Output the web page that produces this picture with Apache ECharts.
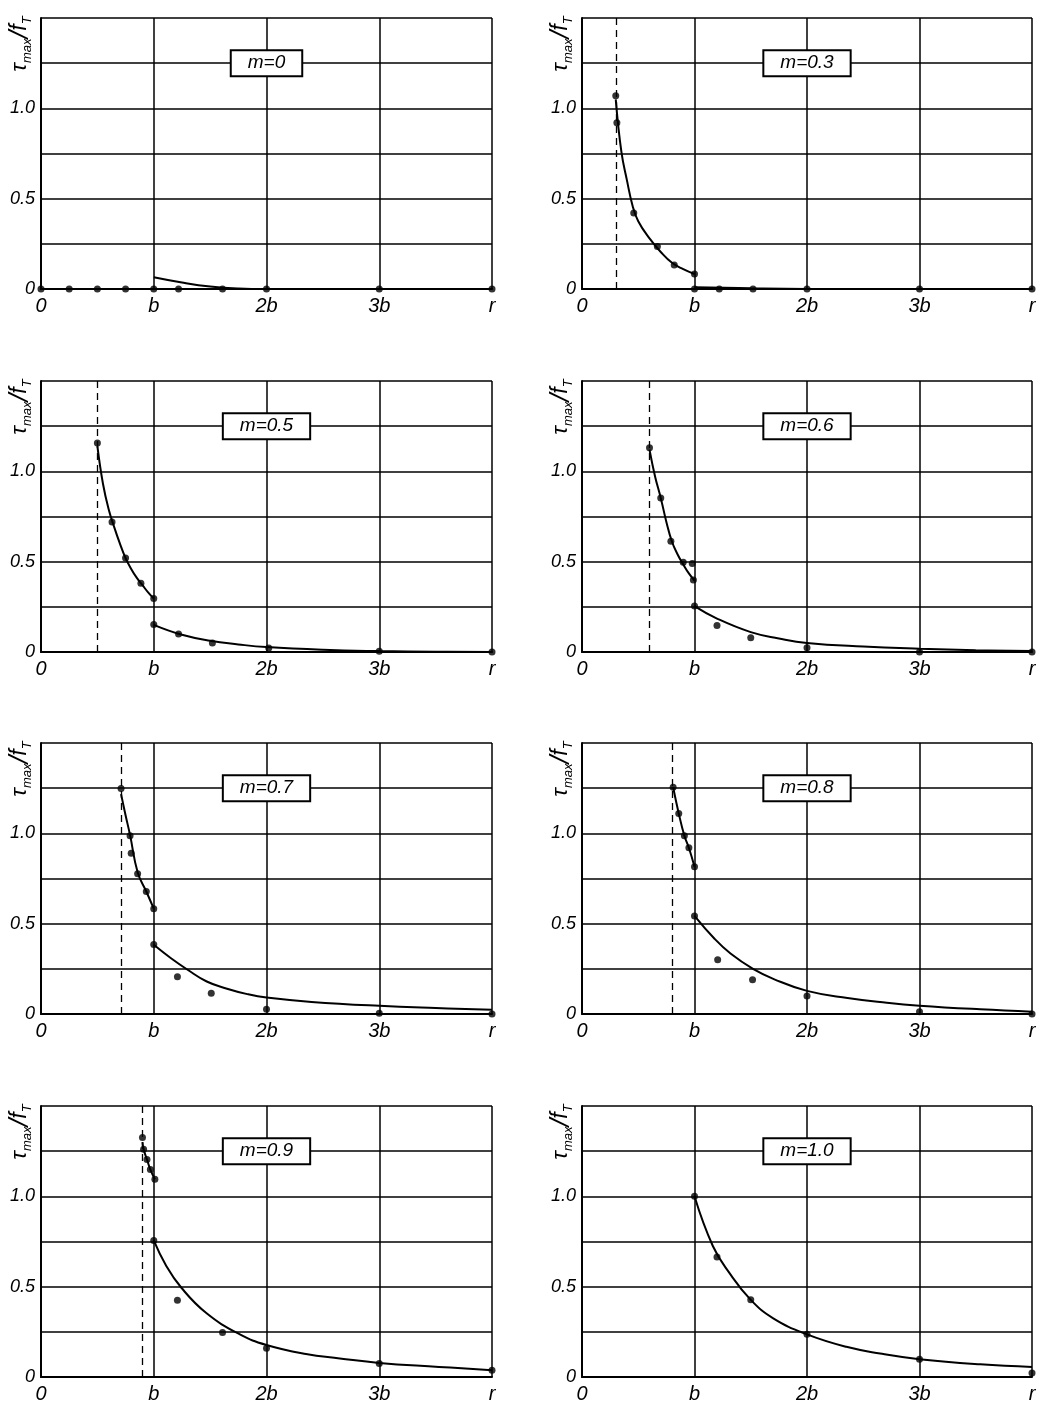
<!DOCTYPE html>
<html>
<head>
<meta charset="utf-8">
<title>tau max / fT</title>
<script src="https://cdn.jsdelivr.net/npm/echarts@6/dist/echarts.min.js"></script>
<style>
  html, body { margin: 0; padding: 0; background: #fff; }
  #main { width: 1053px; height: 1409px; }
</style>
</head>
<body>
<div id="main"></div>
<script>
// x ticks (in units of b), y ticks
var xTickLabels = ['0', 'b', '2b', '3b', 'r'];
var yTickLabels = { 0: '0', 0.5: '0.5', 1: '1.0' };

var panelLabels = ['m=0', 'm=0.3', 'm=0.5', 'm=0.6', 'm=0.7', 'm=0.8', 'm=0.9', 'm=1.0'];
// dashed vertical line (inner edge), null = none
var innerEdge = [null, 0.30, 0.50, 0.60, 0.71, 0.80, 0.90, null];

// measured points
var dotsM0 = [[0, 0], [0.25, 0], [0.5, 0], [0.75, 0], [1, 0], [1.22, 0], [1.61, 0], [2, 0], [3, 0], [4, 0]];
var dotsM03 = [[0.30, 1.07], [0.31, 0.92], [0.46, 0.42], [0.67, 0.235], [0.82, 0.133], [1.0, 0.083], [1.0, 0], [1.22, 0], [1.52, 0], [2, 0], [3, 0], [4, 0]];
var dotsM05 = [[0.50, 1.157], [0.63, 0.72], [0.75, 0.52], [0.886, 0.38], [1.0, 0.296], [1.0, 0.152], [1.22, 0.10], [1.52, 0.05], [2.02, 0.022], [3.0, 0.004], [4.0, 0]];
var dotsM06 = [[0.60, 1.13], [0.70, 0.853], [0.79, 0.613], [0.90, 0.497], [0.98, 0.49], [0.99, 0.398], [1.0, 0.254], [1.20, 0.147], [1.50, 0.079], [2.0, 0.024], [3.0, 0], [4.0, 0]];
var dotsM07 = [[0.71, 1.248], [0.79, 0.987], [0.80, 0.89], [0.857, 0.776], [0.934, 0.678], [1.0, 0.583], [1.0, 0.384], [1.21, 0.206], [1.51, 0.115], [2.0, 0.026], [3.0, 0.004], [4.0, 0]];
var dotsM08 = [[0.81, 1.255], [0.86, 1.11], [0.91, 0.987], [0.95, 0.92], [1.0, 0.815], [1.0, 0.542], [1.206, 0.30], [1.516, 0.189], [2.0, 0.10], [3.0, 0.013], [4.0, 0]];
var dotsM09 = [[0.90, 1.325], [0.91, 1.26], [0.94, 1.204], [0.97, 1.148], [1.01, 1.095], [1.0, 0.756], [1.21, 0.425], [1.61, 0.246], [2.0, 0.159], [3.0, 0.075], [4.0, 0.037]];
var dotsM10 = [[1.0, 1.0], [1.2, 0.664], [1.5, 0.427], [2.0, 0.236], [3.0, 0.0985], [4.0, 0.022]];

// fitted curves (inside r<b and outside r>b)
var curvesM0 = [[[1.0, 0.065], [1.25, 0.036], [1.5, 0.014], [1.75, 0.003], [2.0, 0]]];
var curvesM03 = [
  [[0.30, 1.05], [0.35, 0.76], [0.40, 0.60], [0.45, 0.46], [0.50, 0.375], [0.60, 0.28], [0.70, 0.205], [0.80, 0.145], [0.90, 0.11], [1.0, 0.083]],
  [[1.0, 0.01], [1.5, 0.004], [2.0, 0]]
];
var curvesM05 = [
  [[0.50, 1.14], [0.55, 0.93], [0.60, 0.79], [0.65, 0.69], [0.70, 0.60], [0.75, 0.52], [0.80, 0.46], [0.85, 0.41], [0.90, 0.37], [0.95, 0.33], [1.0, 0.296]],
  [[1.0, 0.15], [1.25, 0.095], [1.5, 0.062], [1.75, 0.042], [2.0, 0.027], [2.5, 0.012], [3.0, 0.005], [3.5, 0.002], [4.0, 0]]
];
var curvesM06 = [
  [[0.60, 1.12], [0.65, 0.97], [0.70, 0.853], [0.75, 0.72], [0.80, 0.61], [0.85, 0.54], [0.90, 0.485], [0.95, 0.435], [1.0, 0.395]],
  [[1.0, 0.254], [1.2, 0.185], [1.5, 0.11], [1.75, 0.075], [2.0, 0.05], [2.5, 0.03], [3.0, 0.018], [3.5, 0.01], [4.0, 0.005]]
];
var curvesM07 = [
  [[0.71, 1.217], [0.75, 1.10], [0.79, 0.99], [0.857, 0.785], [0.934, 0.678], [1.0, 0.583]],
  [[1.0, 0.383], [1.15, 0.31], [1.3, 0.245], [1.47, 0.18], [1.65, 0.14], [1.83, 0.11], [2.0, 0.091], [2.4, 0.067], [3.0, 0.045], [3.5, 0.033], [4.0, 0.024]]
];
var curvesM08 = [
  [[0.81, 1.255], [0.86, 1.11], [0.91, 0.987], [0.95, 0.92], [1.0, 0.815]],
  [[1.0, 0.543], [1.18, 0.415], [1.32, 0.335], [1.52, 0.25], [1.71, 0.192], [2.0, 0.128], [2.36, 0.088], [2.71, 0.062], [3.0, 0.046], [3.54, 0.026], [4.0, 0.013]]
];
var curvesM09 = [
  [[0.90, 1.30], [0.91, 1.26], [0.94, 1.204], [0.97, 1.148], [1.01, 1.095]],
  [[1.0, 0.756], [1.11, 0.616], [1.245, 0.494], [1.466, 0.354], [1.76, 0.237], [2.0, 0.177], [2.35, 0.127], [2.65, 0.103], [3.0, 0.078], [3.53, 0.056], [4.0, 0.037]]
];
var curvesM10 = [
  [[1.0, 1.0], [1.163, 0.725], [1.31, 0.576], [1.5, 0.427], [1.7, 0.325], [2.0, 0.236], [2.35, 0.167], [2.65, 0.13], [3.0, 0.0985], [3.54, 0.07], [4.0, 0.056]]
];

var allDots = [dotsM0, dotsM03, dotsM05, dotsM06, dotsM07, dotsM08, dotsM09, dotsM10];
var allCurves = [curvesM0, curvesM03, curvesM05, curvesM06, curvesM07, curvesM08, curvesM09, curvesM10];

// panel layout
var colLeft = [41, 582];
var colWidth = [451, 450];
var rowTop = [18, 381, 743, 1106];
var panelHeight = 271;

var font = '"Liberation Sans", "DejaVu Sans", sans-serif';

var grids = [], xAxes = [], yAxes = [], series = [], graphics = [];

for (var i = 0; i < 8; i++) {
  var col = i % 2, row = Math.floor(i / 2);
  var g = { left: colLeft[col], top: rowTop[row], width: colWidth[col], height: panelHeight };
  grids.push(g);

  xAxes.push({
    gridIndex: i, type: 'value', min: 0, max: 4, interval: 1,
    axisLine: { show: true, onZero: false, lineStyle: { color: '#000', width: 2 } },
    axisTick: { show: false },
    splitLine: { show: true, lineStyle: { color: '#000', width: 1.5 } },
    axisLabel: {
      margin: 7, color: '#000', fontSize: 20, fontStyle: 'italic', fontFamily: font,
      formatter: function (v) { return xTickLabels[Math.round(v)]; }
    }
  });
  yAxes.push({
    gridIndex: i, type: 'value', min: 0, max: 1.5, interval: 0.25,
    axisLine: { show: true, lineStyle: { color: '#000', width: 2 } },
    axisTick: { show: false },
    splitLine: { show: true, lineStyle: { color: '#000', width: 1.5 } },
    axisLabel: {
      margin: 6, color: '#000', fontSize: 18, fontStyle: 'italic', fontFamily: font,
      formatter: function (v) { return yTickLabels[v] || ''; }
    }
  });

  var dotSeries = {
    type: 'scatter', xAxisIndex: i, yAxisIndex: i,
    data: allDots[i], symbolSize: 7,
    itemStyle: { color: '#000' }, z: 5,
    markPoint: {
      symbol: 'circle', symbolSize: 0, silent: true,
      label: {
        show: true, position: 'inside', color: '#000', fontSize: 19, fontStyle: 'italic', fontFamily: font,
        backgroundColor: '#fff', borderColor: '#000', borderWidth: 2, padding: [3, 16, 2, 16]
      },
      data: [{ coord: [2, 1.25], label: { formatter: panelLabels[i] } }]
    }
  };
  if (innerEdge[i] !== null) {
    dotSeries.markLine = {
      symbol: ['none', 'none'], silent: true,
      label: { show: false },
      lineStyle: { color: '#000', type: [7, 5], width: 1.3 },
      data: [{ xAxis: innerEdge[i] }]
    };
  }
  series.push(dotSeries);

  allCurves[i].forEach(function (c) {
    series.push({
      type: 'line', xAxisIndex: i, yAxisIndex: i,
      data: c, smooth: 0.45, showSymbol: false,
      lineStyle: { color: '#000', width: 2 }, z: 4
    });
  });

  graphics.push({
    type: 'text',
    x: g.left - 21, y: g.top + 26,
    rotation: Math.PI / 2,
    style: {
      text: '{t|τ}{s|max}{l|/}{t|f}{s|T}',
      align: 'center', verticalAlign: 'middle',
      textAlign: 'center', textVerticalAlign: 'middle',
      fill: '#000',
      rich: {
        t: { fontSize: 23, fontStyle: 'italic', fontFamily: font, fill: '#000', color: '#000' },
        l: { fontSize: 28, fontStyle: 'italic', fontFamily: font, fill: '#000', color: '#000' },
        s: { fontSize: 13, fontStyle: 'italic', fontFamily: font, fill: '#000', color: '#000', verticalAlign: 'bottom', padding: [8, 0, 0, 0] }
      }
    }
  });
}

var myChart = echarts.init(document.getElementById('main'));
myChart.setOption({
  backgroundColor: '#fff',
  animation: false,
  grid: grids,
  xAxis: xAxes,
  yAxis: yAxes,
  series: series,
  graphic: graphics
});
</script>
</body>
</html>
